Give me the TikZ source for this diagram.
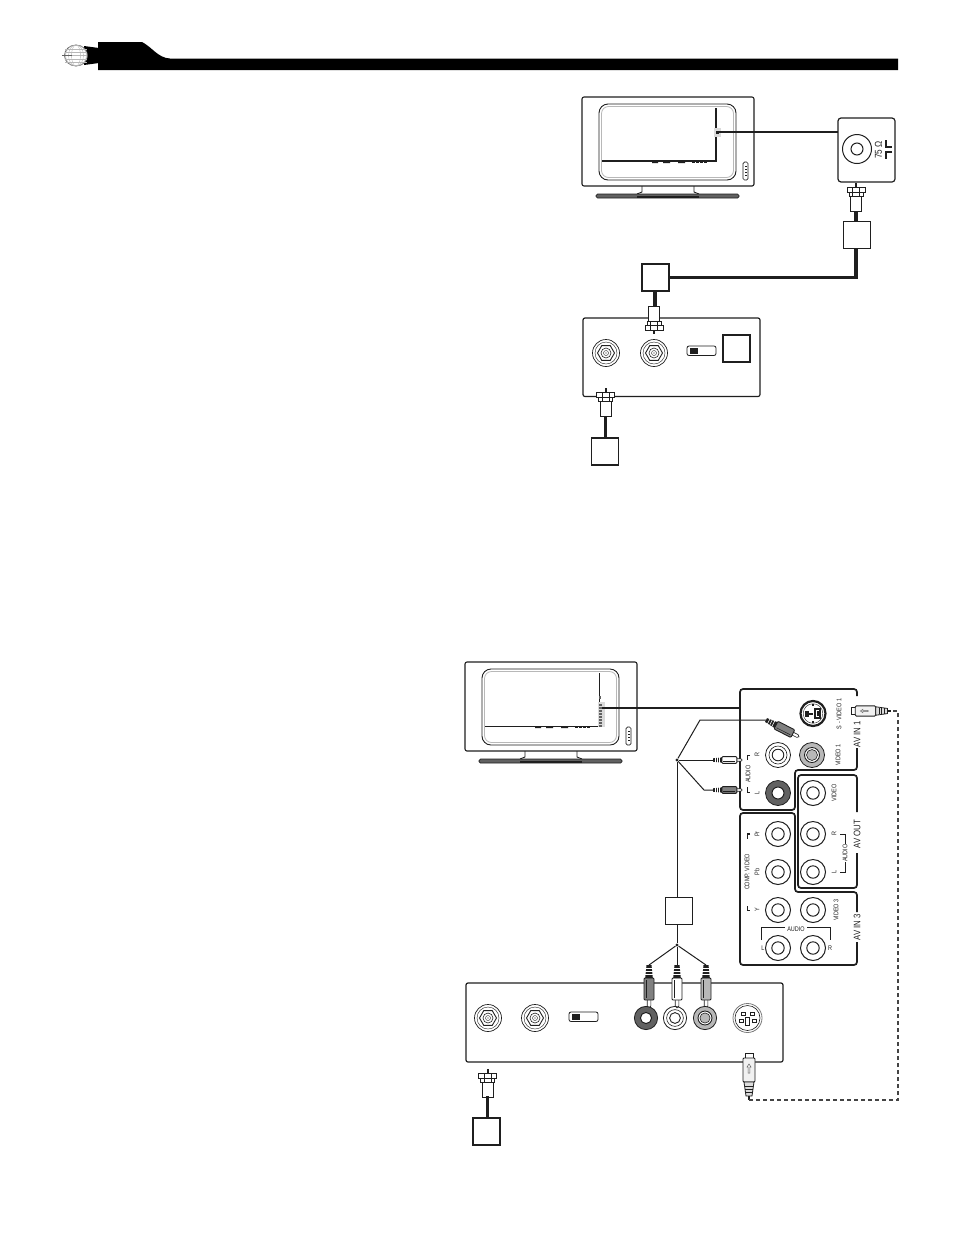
\documentclass[tikz,border=0pt]{standalone}
\usepackage{fontspec}
\newfontfamily\lbl[FakeStretch=0.82]{Liberation Sans}
\usetikzlibrary{shapes.geometric}
\definecolor{ink}{gray}{0.12}
\definecolor{midgrey}{gray}{0.72}
\definecolor{plugdark}{gray}{0.5}
\definecolor{darkgrey}{gray}{0.38}
\definecolor{lightgrey}{gray}{0.86}
\tikzset{
  outl/.style={draw=ink,line width=1.1pt,rounded corners=2pt},
  panel/.style={draw=ink,line width=1.7pt,rounded corners=3pt},
  emptybox/.style={draw=ink,line width=1.6pt,fill=white,minimum width=27pt,minimum height=27pt,inner sep=0pt},
  coaxcable/.style={draw=ink,line width=3.6pt},
  thincable/.style={draw=ink,line width=1pt},
  sigline/.style={draw=ink,line width=1.5pt},
  dashcable/.style={draw=darkgrey!70!black,line width=1.4pt,dash pattern=on 4pt off 3pt},
  tinytxt/.style={font=\lbl\fontsize{6.7}{6.7}\selectfont,text=ink,inner sep=0pt},
  vtxt/.style={tinytxt,rotate=90},
  bigvtxt/.style={vtxt,font=\lbl\fontsize{9.5}{9.5}\selectfont},
  thickmark/.style={draw=ink,line width=1.9pt},
  brk/.style={draw=ink,line width=.7pt},
  hub/.style={circle,fill=ink,inner sep=0pt,minimum size=3.4pt},
  % television, origin at the top-left corner of the cabinet; argument: width of the inner lines
  pics/tvset/.style={code={
    \draw[outl,fill=white] (0,0) rectangle (172,89);
    \draw[draw=ink,line width=.9pt,rounded corners=9pt] (17,7) rectangle (154,83);
    \draw[draw=midgrey,line width=.8pt,rounded corners=7pt] (19.5,9.5) rectangle (151.5,80.5);
    \draw[draw=ink,line width=.7pt,rounded corners=1.5pt] (161,65) rectangle (166,83);
    \foreach \q in {69,72,75,78}{\fill[ink] (162.5,\q) rectangle (164.5,\q+1.2);}
    \draw[ink,line width=.9pt] (60,89) -- (60,95) -- (55,97) (112,89) -- (112,95) -- (117,97);
    \draw[draw=ink,fill=darkgrey,line width=.7pt,rounded corners=1.5pt] (14,97) rectangle (157,101);
    \fill[ink] (55,99) rectangle (117,101);
    \draw[ink,line width=#1] (134,11) -- (134,64) -- (20,64);
    \fill[ink] (70,65) rectangle (76,66) (81,65) rectangle (88,66) (96,65) rectangle (103,66);
    \foreach \q in {110,114,118,122}{\fill[ink] (\q,65) rectangle (\q+2.5,66);}
  }},
  % RCA plug, origin at the cable end, tip towards local +y
  pics/rcaplug/.style={code={
    \fill[white,draw=ink,line width=.6pt] (-1.8,34) -- (-1.8,41) -- (0,43) -- (1.8,41) -- (1.8,34) -- cycle;
    \draw[fill=#1,draw=ink,line width=.9pt,rounded corners=1pt] (-5,13) rectangle (5,35);
    \fill[ink] (-2.5,0) -- (2.5,0) -- (3.8,13) -- (-3.8,13) -- cycle;
    \foreach \q in {3.5,6.5,9.5}{\draw[white,line width=.6pt] (-4,\q) -- (4,\q);}
    \draw[ink,line width=.5pt] (-2.5,15) -- (-2.5,33);
  }},
  % coaxial plug, origin at the pin, cable leaves towards local +y
  pics/coaxplug/.style={code={
    \fill[ink] (-1,0) rectangle (1,4);
    \draw[fill=white,draw=ink,line width=.9pt] (-5.5,12) rectangle (5.5,28);
    \draw[fill=white,draw=ink,line width=.9pt] (-9,4) rectangle (9,9);
    \draw[fill=white,draw=ink,line width=.9pt] (-7,9) rectangle (7,13);
    \draw[ink,line width=.6pt] (-3.5,4) -- (-3.5,13) (3.5,4) -- (3.5,13);
  }},
  % S-video plug, origin at the pin end, cable towards local +y
  pics/splug/.style={code={
    \draw[fill=white,draw=ink,line width=.8pt] (-4,0) rectangle (4,6);
    \draw[fill=lightgrey!40,draw=ink,line width=.9pt,rounded corners=1pt] (-6,5) rectangle (6,29);
    \draw[darkgrey,line width=.5pt] (-.8,20) -- (-.8,14) -- (-2,14) -- (0,11) -- (2,14) -- (.8,14) -- (.8,20) -- cycle;
    \draw[fill=lightgrey,draw=ink,line width=.8pt] (-5,29) -- (5,29) -- (3,43) -- (-3,43) -- cycle;
    \foreach \q in {33,36,39}{\draw[ink,line width=.5pt] (-4,\q) -- (4,\q);}
    \fill[ink] (-1,43) rectangle (1,47);
  }},
  pics/coaxjack/.style={code={
    \draw[ink,line width=.7pt] (0,0) circle (13.5);
    \draw[ink,line width=.4pt] (0,0) circle (11);
    \node[regular polygon,regular polygon sides=6,draw=ink,line width=.9pt,minimum size=17pt,inner sep=0pt] {};
    \draw[ink,line width=.6pt] (0,0) circle (5);
    \draw[ink,line width=.4pt] (0,0) circle (2.5);
    \fill[ink] (0,0) circle (.7);
  }},
  pics/slider/.style={code={
    \draw[draw=ink,line width=.8pt,rounded corners=2pt,fill=white] (0,0) rectangle (29,9.5);
    \fill[ink] (2.5,2) rectangle (11,7.5);
  }},
  pics/plainjack/.style={code={
    \draw[ink,line width=1pt] (0,0) circle (12.5);
    \draw[ink,line width=1pt] (0,0) circle (6.2);
  }},
  pics/whitejack/.style={code={
    \draw[ink,line width=.8pt] (0,0) circle (12.5);
    \draw[ink,line width=.6pt] (0,0) circle (9);
    \draw[ink,line width=.9pt] (0,0) circle (5.8);
  }},
  pics/greyjack/.style={code={
    \draw[fill=midgrey,draw=ink,line width=.8pt] (0,0) circle (12.5);
    \draw[ink,fill=white,line width=.9pt] (0,0) circle (7.5);
    \draw[ink,fill=midgrey,line width=.6pt] (0,0) circle (5.5);
  }},
  pics/darkjack/.style={code={
    \draw[fill=darkgrey,draw=ink,line width=.8pt] (0,0) circle (12.5);
    \draw[ink,fill=white,line width=1pt] (0,0) circle (6);
  }},
}
\begin{document}
\begin{tikzpicture}[x=1pt,y=-1pt]
\useasboundingbox (0,0) rectangle (954,1235);
% ------ page header
\fill[black] (98,70) -- (98,42) -- (142,42) .. controls (152,47) and (158,58) .. (170,58.5) -- (898,58.5) -- (898,70) -- cycle;
\fill[black] (84,46) -- (99,48) -- (99,63) -- (84,65) -- cycle;
\draw[fill=white,draw=darkgrey,line width=.8pt] (76,55.5) ellipse (11.5 and 10.5);
\foreach \q in {2.5,5.5,8.5}{\draw[midgrey,line width=.4pt] (76,55.5) ellipse (\q+2 and 10.5);}
\foreach \q in {49,52,55.5,59,62}{\draw[midgrey,line width=.4pt] (65,\q) -- (87,\q);}
\draw[darkgrey,line width=.5pt] (62,55.5) -- (72,55.5);
% ------ upper diagram
\pic at (582,97) {tvset={1.5pt}};
\fill[lightgrey] (713.5,128) rectangle (721,137);
\fill[ink] (715.5,130.5) rectangle (718.5,134);
\coordinate (tvAport) at (718,132);
\draw[outl,fill=white,line width=1.2pt,rounded corners=3pt] (838,118) rectangle (895,182);
\coordinate (wallA) at (838,132);
\draw[sigline] (tvAport) -- (wallA);
\draw[ink,line width=1pt] (857,149) circle (14.5);
\draw[ink,line width=1pt] (857,149) circle (6);
\node[vtxt,font=\lbl\fontsize{10}{10}\selectfont] (ohms) at (878.5,150) {75 Ω};
\draw[thickmark] (886,140) |- (892,147);
\draw[thickmark] (892,152) -| (886,159);
\pic at (856,183) {coaxplug};
\node[emptybox] (boxA) at (857,235) {};
\node[emptybox] (boxB) at (655.5,277.5) {};
\coordinate (plugAend) at (856,211);
\coordinate (plugBend) at (655,306);
\draw[coaxcable] (plugAend) -- (boxA.north -| plugAend);
\draw[coaxcable,line join=miter] (boxA.south -| plugAend) |- (boxB.east);
\draw[coaxcable] (boxB.south -| plugBend) -- (plugBend);
\draw[outl,line width=1.2pt,fill=white] (583,318) rectangle (760,396.5);
\pic[rotate=180] at (654,334) {coaxplug};
\pic at (606,353) {coaxjack};
\pic at (654,353) {coaxjack};
\pic at (687,346) {slider};
\node[emptybox] (boxC) at (736.5,348.5) {};
\coordinate (plugCend) at (605.5,417);
\node[emptybox] (boxD) at (605,451.5) {};
\draw[coaxcable] (plugCend) -- (boxD.north -| plugCend);
\pic at (605.5,388) {coaxplug};
% ------ lower diagram
\pic at (465,662) {tvset={.9pt}};
\fill[lightgrey] (597.5,702) rectangle (605,727);
\fill[darkgrey] (598.5,695.5) rectangle (601,698.5);
\foreach \q in {704,707,710,713,716,719,722,725}{\fill[darkgrey] (598.5,\q) rectangle (601.5,\q+1.5);}
\coordinate (tvBport) at (602,708);
\coordinate (panelA) at (740,708);
\draw[sigline] (tvBport) -- (panelA);
% receiver panels
\draw[panel] (857,696) -- (857,689) -- (740,689) -- (740,810) -- (795,810) -- (795,770) -- (857,770) -- (857,748);
\draw[panel] (857,812) -- (857,775) -- (798,775) -- (798,888) -- (857,888) -- (857,853);
\draw[panel] (857,912) -- (857,892) -- (795,892) -- (795,813) -- (740,813) -- (740,965) -- (857,965) -- (857,942);
% S-video socket of the receiver
\draw[ink,line width=2.2pt] (813,713.5) circle (12.5);
\draw[ink,line width=.4pt] (813,713.5) circle (9.8);
\fill[ink] (805,711) rectangle (809,717);
\draw[ink,fill=white,line width=1.2pt] (815,709) rectangle (820,718);
\fill[ink] (816.5,711) rectangle (818.5,716);
\draw[ink,line width=1.3pt] (809,714) -- (813,714) (812,705) -- (814,705) (812,722) -- (814,722);
% receiver sockets
\pic at (778,755) {whitejack};
\pic at (812,755) {greyjack};
\pic at (778,793) {darkjack};
\pic at (813,793) {plainjack};
\pic at (813,834) {plainjack};
\pic at (813,872) {plainjack};
\pic at (778,834) {plainjack};
\pic at (778,872) {plainjack};
\pic at (778,910) {plainjack};
\pic at (813,910) {plainjack};
\pic at (778,948) {plainjack};
\pic at (813,948) {plainjack};
% receiver labels
\node[vtxt] (lsv) at (839,714) {S - VIDEO 1};
\node[vtxt] (lv1) at (838,755) {VIDEO 1};
\node[vtxt] (laud) at (748,774) {AUDIO};
\node[tinytxt,rotate=90] (lr) at (757,755) {R};
\node[tinytxt,rotate=90] (ll) at (757,793) {L};
\node[vtxt] (lvid) at (834,793) {VIDEO};
\node[bigvtxt] (lavo) at (857,834) {AV OUT};
\node[tinytxt,rotate=90] (lr2) at (834,834) {R};
\node[tinytxt,rotate=90] (ll2) at (834,872) {L};
\node[vtxt] (laud2) at (845,853) {AUDIO};
\node[tinytxt,rotate=90] (lpr) at (757,834) {Pr};
\node[tinytxt,rotate=90] (lpb) at (757,872) {Pb};
\node[vtxt] (lcomp) at (747,872) {COMP. VIDEO};
\node[tinytxt,rotate=90] (ly) at (757,910) {Y};
\node[vtxt] (lv3) at (836,910) {VIDEO 3};
\node[bigvtxt] (lav3) at (857,927) {AV IN 3};
\node[tinytxt] (laud3) at (796,929) {AUDIO};
\node[tinytxt] (ll3) at (763,948) {L};
\node[tinytxt] (lr3) at (830,948) {R};
\draw[brk] (761,940) |- (785,927.5) (807,927.5) -| (830,940);
\draw[brk] (840,834) -| (845,844) (845,862) |- (840,872);
\draw[thickmark] (750,755.5) -| (747.5,760);
\draw[thickmark] (747.5,787) |- (750,792.5);
\draw[thickmark] (750,834) -| (747.5,839);
\draw[thickmark] (747.5,906) |- (750,910.5);
% audio loom
\node[hub] (hubT) at (677,760) {};
\node[hub] (hubB) at (677,945) {};
\node[emptybox] (boxE) at (679,911) {};
\coordinate (bendT) at (700,720);
\coordinate (rcaT) at (766,720);
\coordinate (rcaM) at (713,760);
\coordinate (rcaL) at (704,790);
\coordinate (rcaLs) at (713,790);
\coordinate (plugL) at (649,965);
\coordinate (plugM) at (677,965);
\coordinate (plugR) at (706,965);
\draw[thincable] (hubT) -- (bendT) -- (rcaT);
\draw[thincable] (hubT) -- (rcaM);
\draw[thincable] (hubT) -- (rcaL) -- (rcaLs);
\draw[thincable] (hubT) -- (boxE.north -| hubT);
\draw[thincable] (boxE.south -| hubT) -- (hubB);
\draw[thincable] (hubB) -- (plugL);
\draw[thincable] (hubB) -- (plugM);
\draw[thincable] (hubB) -- (plugR);
\pic[rotate=63,scale=.86] at (rcaT) {rcaplug=plugdark};
\pic[rotate=90,scale=.68] at (rcaM) {rcaplug=white};
\pic[rotate=90,scale=.68] at (rcaLs) {rcaplug=plugdark};
% bottom player
\draw[outl,line width=1.2pt,fill=white] (466,983) rectangle (783,1062);
\pic at (649,965) {rcaplug=plugdark};
\pic at (677,965) {rcaplug=white};
\pic at (706,965) {rcaplug=midgrey};
\pic at (488,1018) {coaxjack};
\pic at (535,1018) {coaxjack};
\pic at (569,1012) {slider};
\pic[scale=.93] at (646,1018) {darkjack};
\pic[scale=.93] at (675,1018) {whitejack};
\pic[scale=.93] at (705,1018) {greyjack};
\draw[draw=midgrey!60!ink,line width=.8pt] (747.5,1018) circle (14.5);
\draw[ink,line width=.6pt] (747.5,1018) circle (12.5);
\draw[ink,line width=.7pt] (741,1012) rectangle (745,1015) (750,1012) rectangle (754,1015)
  (739,1019) rectangle (743,1022) (752,1019) rectangle (756,1022);
\draw[ink,line width=.7pt] (745.5,1017) -- (749.5,1017) -- (749.5,1025) -- (745.5,1025) -- cycle;
\pic at (749,1053) {splug};
\pic at (487.5,1069) {coaxplug};
\coordinate (plugDend) at (487.5,1096);
\node[emptybox] (boxF) at (486.5,1131.5) {};
\draw[coaxcable] (plugDend) -- (boxF.north -| plugDend);
% S-video lead
\pic[rotate=90,scale=.85] at (851,711) {splug};
\coordinate (svA) at (749,1100);
\coordinate (svB) at (891,711);
\draw[dashcable] (svA) -- (898,1100) -- (898,711) -- (svB);
\node[bigvtxt] (lav1) at (857,734) {AV IN 1};
\end{tikzpicture}
\end{document}
